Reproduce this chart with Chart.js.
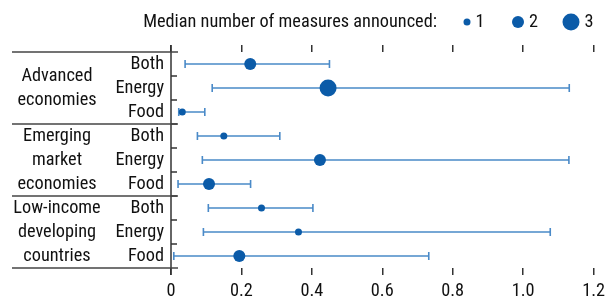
<!DOCTYPE html>
<html>
<head>
<meta charset="utf-8">
<script src="https://cdn.jsdelivr.net/npm/chart.js@4.4.1/dist/chart.umd.min.js"></script>
<style>
html,body{margin:0;padding:0;background:#fff;}
#wrap{position:relative;width:610px;height:299px;}
</style>
</head>
<body>
<div id="wrap"><canvas id="c" width="610" height="299"></canvas></div>
<script>
// ---- data ----
const rowLabels = ['Both','Energy','Food','Both','Energy','Food','Both','Energy','Food'];
const groupLabels = [['Advanced','economies'],['Emerging','market','economies'],['Low-income','developing','countries']];
const groupRows = [[0,2],[3,5],[6,8]];
const medians = [0.225, 0.446, 0.032, 0.150, 0.423, 0.108, 0.257, 0.362, 0.194];
const lows    = [0.040, 0.117, 0.022, 0.075, 0.089, 0.020, 0.106, 0.092, 0.008];
const highs   = [0.450, 1.131, 0.096, 0.309, 1.130, 0.226, 0.403, 1.077, 0.732];
const measures = [2, 3, 1, 1, 2, 2, 1, 1, 2];
const xTicks = [0, 0.2, 0.4, 0.6, 0.8, 1.0, 1.2];
const legendTitle = 'Median number of measures announced:';
const legendValues = [1, 2, 3];

// ---- styles ----
const FONT = "'Roboto Condensed','Liberation Sans Narrow',sans-serif";
const FS = 18.3;
const DOT = '#0b5ba8';
const BAR = '#4a8ac8';
const AX = '#333333';
const radiusFor = {1: 3.5, 2: 6, 3: 8.5};

const points = medians.map((m, i) => ({x: m, y: i}));

const decor = {
  id: 'decor',
  beforeDatasetsDraw(chart) {
    const {ctx} = chart;
    const xs = chart.scales.x, ys = chart.scales.y;
    ctx.save();
    ctx.strokeStyle = BAR;
    ctx.lineWidth = 1.6;
    for (let i = 0; i < medians.length; i++) {
      const y = ys.getPixelForValue(i);
      const x1 = xs.getPixelForValue(lows[i]);
      const x2 = xs.getPixelForValue(highs[i]);
      ctx.beginPath();
      ctx.moveTo(x1, y); ctx.lineTo(x2, y);
      ctx.moveTo(x1, y - 4); ctx.lineTo(x1, y + 4);
      ctx.moveTo(x2, y - 4); ctx.lineTo(x2, y + 4);
      ctx.stroke();
    }
    ctx.restore();
  },
  afterDraw(chart) {
    const {ctx, chartArea} = chart;
    const ys = chart.scales.y;
    const ax = chartArea.left;
    ctx.save();
    ctx.strokeStyle = AX;
    ctx.lineWidth = 1.5;
    ctx.beginPath();
    ctx.moveTo(ax, chartArea.top - 7); ctx.lineTo(ax, chartArea.bottom + 7);
    ctx.stroke();
    for (let i = 0; i < rowLabels.length - 1; i++) {
      const y = ys.getPixelForValue(i + 0.5);
      ctx.beginPath(); ctx.moveTo(ax, y); ctx.lineTo(ax + 6, y); ctx.stroke();
    }
    const seps = [-0.5, 2.5, 5.5, 8.5];
    ctx.lineWidth = 1.6;
    ctx.strokeStyle = '#444';
    seps.forEach(v => {
      const y = ys.getPixelForValue(v);
      ctx.beginPath(); ctx.moveTo(12, y); ctx.lineTo(ax + 7, y); ctx.stroke();
    });
    ctx.fillStyle = '#111';
    ctx.font = FS + 'px ' + FONT;
    ctx.textAlign = 'center';
    ctx.textBaseline = 'middle';
    groupLabels.forEach((lines, g) => {
      const [a, b] = groupRows[g];
      const yc = (ys.getPixelForValue(a) + ys.getPixelForValue(b)) / 2;
      const lh = 24;
      lines.forEach((t, k) => {
        ctx.fillText(t, 57, yc + (k - (lines.length - 1) / 2) * lh);
      });
    });
    const ly = 22;
    ctx.textAlign = 'right';
    ctx.fillText(legendTitle, 437, ly);
    ctx.textAlign = 'left';
    const lx = [467, 518, 571];
    legendValues.forEach((v, k) => {
      ctx.fillStyle = DOT;
      ctx.beginPath(); ctx.arc(lx[k], ly, radiusFor[v], 0, Math.PI * 2); ctx.fill();
      ctx.fillStyle = '#111';
      ctx.fillText(String(v), lx[k] + radiusFor[v] + 5, ly);
    });
    ctx.restore();
  }
};

new Chart(document.getElementById('c'), {
  type: 'scatter',
  data: {
    datasets: [{
      data: points,
      backgroundColor: DOT,
      borderColor: DOT,
      borderWidth: 0,
      pointRadius: measures.map(m => radiusFor[m]),
      pointHoverRadius: measures.map(m => radiusFor[m])
    }]
  },
  options: {
    responsive: false,
    animation: false,
    events: [],
    layout: {padding: {top: 45, right: 13, left: 0, bottom: 0}},
    plugins: {legend: {display: false}, tooltip: {enabled: false}},
    scales: {
      x: {
        type: 'linear', position: 'bottom', min: 0, max: 1.2,
        afterBuildTicks: s => { s.ticks = xTicks.map(v => ({value: v})); },
        afterFit: s => { s.height = 31; },
        ticks: {
          color: '#111', font: {family: FONT, size: FS}, padding: 5,
          maxRotation: 0, autoSkip: false,
          callback: v => (v === 0 ? '0' : v.toFixed(1))
        },
        grid: {drawOnChartArea: false, drawTicks: true, tickLength: 7, color: AX, lineWidth: 1.5},
        border: {display: false}
      },
      x2: {
        type: 'linear', position: 'top', min: 0, max: 1.2,
        afterBuildTicks: s => { s.ticks = xTicks.map(v => ({value: v})); },
        afterFit: s => { s.height = 7; },
        ticks: {display: false},
        grid: {drawOnChartArea: false, drawTicks: true, tickLength: 7, color: AX, lineWidth: 1.5},
        border: {display: false}
      },
      y: {
        type: 'linear', reverse: true, min: -0.5, max: 8.5,
        afterBuildTicks: s => { s.ticks = rowLabels.map((_, i) => ({value: i})); },
        afterFit: s => { s.width = 171; },
        ticks: {
          color: '#111', font: {family: FONT, size: FS}, padding: 7,
          callback: v => rowLabels[v]
        },
        grid: {display: false, drawTicks: false},
        border: {display: false}
      }
    }
  },
  plugins: [decor]
});
</script>
</body>
</html>
